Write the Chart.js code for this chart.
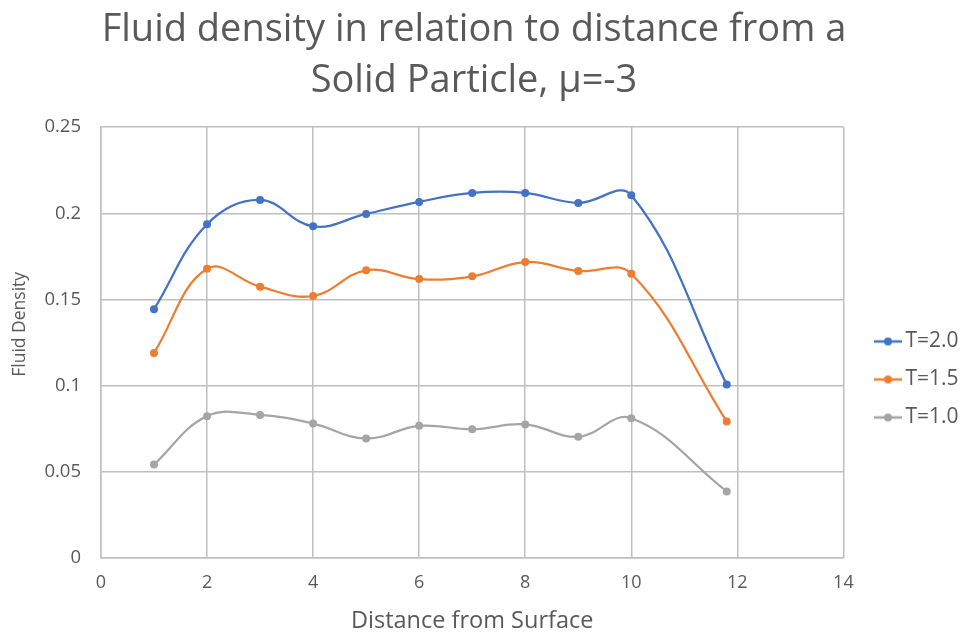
<!DOCTYPE html>
<html lang="en">
  <head>
    <meta charset="UTF-8" />
    <script src="https://cdn.jsdelivr.net/npm/chart.js"></script>
    <title>Fluid density</title>
    <style>
      html, body { margin: 0; padding: 0; background: #fff; }
      #wrap { width: 963px; height: 635px; }
    </style>
  </head>
  <body>
    <div id="wrap"><canvas id="myChart"></canvas></div>
    <script>
      // distance from surface
      const distance = [1, 2, 3, 4, 5, 6, 7, 8, 9, 10, 11.8];

      const densityT20 = [0.1443, 0.1936, 0.2077, 0.1924, 0.1996, 0.2066, 0.2118, 0.2118, 0.206, 0.2105, 0.1007];
      const densityT15 = [0.119, 0.1678, 0.1574, 0.152, 0.1669, 0.1618, 0.1634, 0.1717, 0.1665, 0.1649, 0.0792];
      const densityT10 = [0.0542, 0.0823, 0.083, 0.078, 0.0693, 0.0767, 0.0747, 0.0775, 0.0703, 0.0811, 0.0386];

      const seriesNames = ["T=2.0", "T=1.5", "T=1.0"];
      const seriesColors = ["#4472C4", "#ED7D31", "#A5A5A5"];

      const titleLines = ["Fluid density in relation to distance from a", "Solid Particle, \u03bc=-3"];
      const xTitle = "Distance from Surface";
      // leading spaces nudge it up a little, like the original
      const yTitle = "        Fluid Density";

      const textColor = "#595959";
      const gridColor = "#BFBFBF";
      const fontName = "'Open Sans', sans-serif";

      function points(ys) {
        return distance.map((x, i) => ({ x: x, y: ys[i] }));
      }

      // little line-with-dot marker for the legend
      function legendMarker(color) {
        const c = document.createElement("canvas");
        c.width = 28;
        c.height = 10;
        const g = c.getContext("2d");
        g.strokeStyle = color;
        g.lineWidth = 2.5;
        g.beginPath();
        g.moveTo(0, 5);
        g.lineTo(28, 5);
        g.stroke();
        g.fillStyle = color;
        g.beginPath();
        g.arc(14, 5, 4, 0, Math.PI * 2);
        g.fill();
        return c;
      }

      const allSeries = [densityT20, densityT15, densityT10];
      const datasets = allSeries.map((ys, i) => ({
        label: seriesNames[i],
        data: points(ys),
        borderColor: seriesColors[i],
        backgroundColor: seriesColors[i],
        borderWidth: 2.25,
        pointRadius: 4,
        pointHoverRadius: 4,
        pointBorderWidth: 0,
        tension: 0.4,
        showLine: true,
        pointStyle: "circle",
      }));

      // put the legend where Excel puts it
      const legendPlace = {
        id: "legendPlace",
        afterLayout(chart) {
          const lg = chart.legend;
          lg.left = 864;
          lg.right = 963;
          lg.width = 99;
          lg.top = 314;
          lg.bottom = 635;
          lg.height = 321;
        },
      };

      const config = {
        type: "scatter",
        data: { datasets: datasets },
        plugins: [legendPlace],
        options: {
          responsive: true,
          maintainAspectRatio: false,
          animation: false,
          layout: { padding: { left: 0, right: 15, top: 0, bottom: 0 } },
          plugins: {
            title: {
              display: true,
              text: titleLines,
              color: textColor,
              font: { family: fontName, size: 38, weight: "normal", lineHeight: 1.33 },
              padding: { top: 5, bottom: 21 },
            },
            legend: {
              display: true,
              position: "right",
              align: "start",
              labels: {
                color: textColor,
                font: { family: fontName, size: 21 },
                usePointStyle: true,
                pointStyleWidth: 14,
                padding: 17,
                generateLabels(chart) {
                  return chart.data.datasets.map((ds, i) => ({
                    text: ds.label,
                    fillStyle: ds.borderColor,
                    strokeStyle: ds.borderColor,
                    pointStyle: legendMarker(ds.borderColor),
                    fontColor: textColor,
                    lineWidth: 0,
                    hidden: false,
                    datasetIndex: i,
                  }));
                },
              },
            },
            tooltip: { enabled: false },
          },
          scales: {
            x: {
              type: "linear",
              min: 0,
              max: 14,
              ticks: {
                stepSize: 2,
                color: textColor,
                font: { family: fontName, size: 18 },
                padding: 14,
              },
              grid: { color: gridColor, lineWidth: 1.5, drawTicks: false },
              border: { color: gridColor, width: 1.5 },
              title: {
                display: true,
                text: xTitle,
                color: textColor,
                font: { family: fontName, size: 23.5 },
                padding: { top: 2, bottom: 0 },
              },
              afterFit(scale) {
                scale.height = 77;
              },
            },
            y: {
              type: "linear",
              min: 0,
              max: 0.25,
              ticks: {
                stepSize: 0.05,
                color: textColor,
                font: { family: fontName, size: 18.5 },
                padding: 20,
                callback: (v) => String(+v.toFixed(2)),
              },
              grid: { color: gridColor, lineWidth: 1.5, drawTicks: false },
              border: { color: gridColor, width: 1.5 },
              title: {
                display: true,
                text: yTitle,
                color: textColor,
                font: { family: fontName, size: 17.5 },
                padding: { top: 10, bottom: 0 },
              },
              afterFit(scale) {
                scale.width = 101;
              },
            },
          },
        },
      };

      var myChart = new Chart(document.getElementById("myChart"), config);
    </script>
  </body>
</html>
